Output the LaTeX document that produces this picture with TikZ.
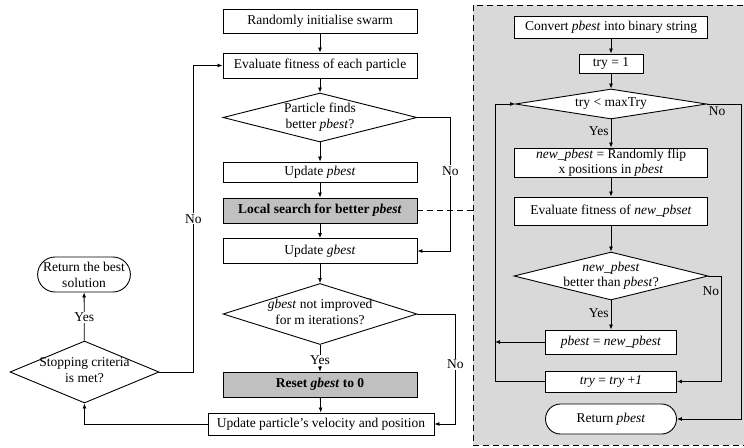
\documentclass[tikz,border=0pt]{standalone}
\usepackage{fontspec}
\setmainfont{Liberation Serif}
\usetikzlibrary{shapes.geometric, shapes.misc, arrows.meta}
\definecolor{panelgray}{RGB}{217,217,217}
\definecolor{boxgray}{RGB}{192,192,192}
\newcommand{\flowfont}{\fontsize{13.5}{16}\selectfont}
% text of a diamond, kept from growing the shape
\newcommand{\dtext}[1]{\makebox[0pt]{\raisebox{-0.25em}[0pt][0pt]{\begin{tabular}{@{}c@{}}#1\end{tabular}}}}
\tikzset{
    flow/.style={-{Latex[length=5pt, width=4pt]}, line width=0.8pt},
    proc/.style={draw, fill=white, line width=0.9pt, inner sep=0pt, align=center,
        minimum width=194pt, minimum height=24pt},
    hlproc/.style={proc, fill=boxgray, font=\flowfont\bfseries},
    decision/.style={diamond, draw, fill=white, line width=0.9pt, inner sep=0pt,
        minimum width=194pt, minimum height=49pt},
    term/.style={rounded rectangle, draw, fill=white, line width=0.9pt, inner sep=0pt, align=center},
    lbl/.style={fill=white, inner sep=1pt},
    sidelbl/.style={inner sep=2pt},
}

\begin{document}
\begin{tikzpicture}[x=1pt, y=-1pt, font=\flowfont]
    \useasboundingbox (0, 0) rectangle (744, 447);
    \begin{scope}
        % Main PSO loop
        \node[proc] (init) at (320, 21) {Randomly initialise swarm};
        \node[proc, minimum height=25pt] (eval) at (320, 65.5) {Evaluate fitness of each particle};
        \node[decision] (findp) at (320, 117.5) {\dtext{Particle finds\\better \textit{pbest}?}};
        \node[proc, minimum height=20pt] (updp) at (320, 172) {Update \textit{pbest}};
        \node[hlproc, minimum height=25pt] (local) at (320, 210.5) {Local search for better \textit{pbest}};
        \node[proc, minimum height=25pt] (updg) at (320, 251) {Update \textit{gbest}};
        \node[decision, minimum height=61pt] (stuck) at (320, 314) {\dtext{\textit{gbest} not improved\\for m iterations?}};
        \node[hlproc, minimum height=25pt] (reset) at (320, 384.5) {Reset \textit{gbest} to 0};
        \node[proc, minimum width=226pt, minimum height=22pt] (velo) at (321, 424) {Update particle’s velocity and position};
        % Stopping test
        \node[decision, minimum width=149pt, minimum height=62pt] (stop) at (84.5, 372) {\dtext{Stopping criteria\\is met?}};
        \node[term, minimum width=88pt, minimum height=35pt] (best) at (84, 274.5) {Return the best\\solution};
        % Connectors
        \draw[flow] (init) -- (eval);
        \draw[flow] (eval) -- (findp);
        \draw[flow] (findp) -- (updp);
        \draw[flow] (updp) -- (local);
        \draw[flow] (local) -- (updg);
        \draw[flow] (updg) -- (stuck);
        \draw[flow] (stuck) -- (reset) node[lbl, pos=0.57] {Yes};
        \draw[flow] (reset) -- (velo);
        \draw[flow] (findp.east) -- ++(33, 0) |- (updg.east) node[lbl, pos=0.2] {No};
        \draw[flow] (stuck.east) -- ++(38, 0) |- (velo.east) node[lbl, pos=0.23] {No};
        \draw[flow] (velo.west) -| (stop.south);
        \draw[flow] (stop.east) -- ++(34, 0) |- (eval.west) node[lbl, pos=0.25] {No};
        \draw[flow] (stop) -- (best) node[lbl, pos=0.49] {Yes};
    \end{scope}
    \begin{scope}
        % Local search panel
        \node[draw, dashed, dash pattern=on 6pt off 4pt, line width=0.8pt, fill=panelgray,
            minimum width=275pt, minimum height=440pt] (panel) at (610.5, 225) {};
        \draw[dashed, dash pattern=on 6pt off 4pt, line width=0.8pt] (local.east) -- (local.east -| panel.west);
        \node[proc, minimum width=193pt, minimum height=22pt] (conv) at (611, 27) {Convert \textit{pbest} into binary string};
        \node[proc, minimum width=64pt, minimum height=19pt] (try) at (611, 63.5) {try = 1};
        \node[decision, minimum width=191pt, minimum height=30pt] (trytest) at (611, 104) {\dtext{try < maxTry}};
        \node[proc, minimum width=193pt, minimum height=29pt, font=\fontsize{13.5}{15}\selectfont] (flip) at (611, 162.5) {\textit{new\_pbest} = Randomly flip\\x positions in \textit{pbest}};
        \node[proc, minimum width=193pt, minimum height=28pt] (evalnew) at (611, 211) {Evaluate fitness of \textit{new\_pbset}};
        \node[decision, minimum height=48pt, font=\fontsize{13.5}{15}\selectfont] (better) at (611, 276) {\dtext{\textit{new\_pbest}\\better than \textit{pbest}?}};
        \node[proc, minimum width=131pt, minimum height=24pt] (assign) at (611, 342) {\textit{pbest} = \textit{new\_pbest}};
        \node[proc, minimum width=131pt, minimum height=21pt] (inc) at (611, 381.5) {\textit{try} = \textit{try} +\textit{1}};
        \node[term, minimum width=131pt, minimum height=30pt] (retp) at (611, 419) {Return \textit{pbest}};
        % Connectors
        \draw[flow] (conv) -- (try);
        \draw[flow] (try) -- (trytest);
        \draw[flow] (trytest) -- (flip) node[sidelbl, left, pos=0.4] {Yes};
        \draw[flow] (flip) -- (evalnew);
        \draw[flow] (evalnew) -- (better);
        \draw[flow] (better) -- (assign) node[sidelbl, left, pos=0.45] {Yes};
        \draw[flow] (assign.west) -- ++(-50, 0);
        \draw[flow] (inc.west) -- ++(-50, 0) |- (trytest.west);
        \draw[flow] (better.east) -- ++(13, 0) |- (inc.east) node[sidelbl, left, pos=0.07] {No};
        \draw[flow] (trytest.east) -- ++(34, 0) node[sidelbl, below, pos=0.3] {No} |- (retp.east);
    \end{scope}
\end{tikzpicture}
\end{document}
